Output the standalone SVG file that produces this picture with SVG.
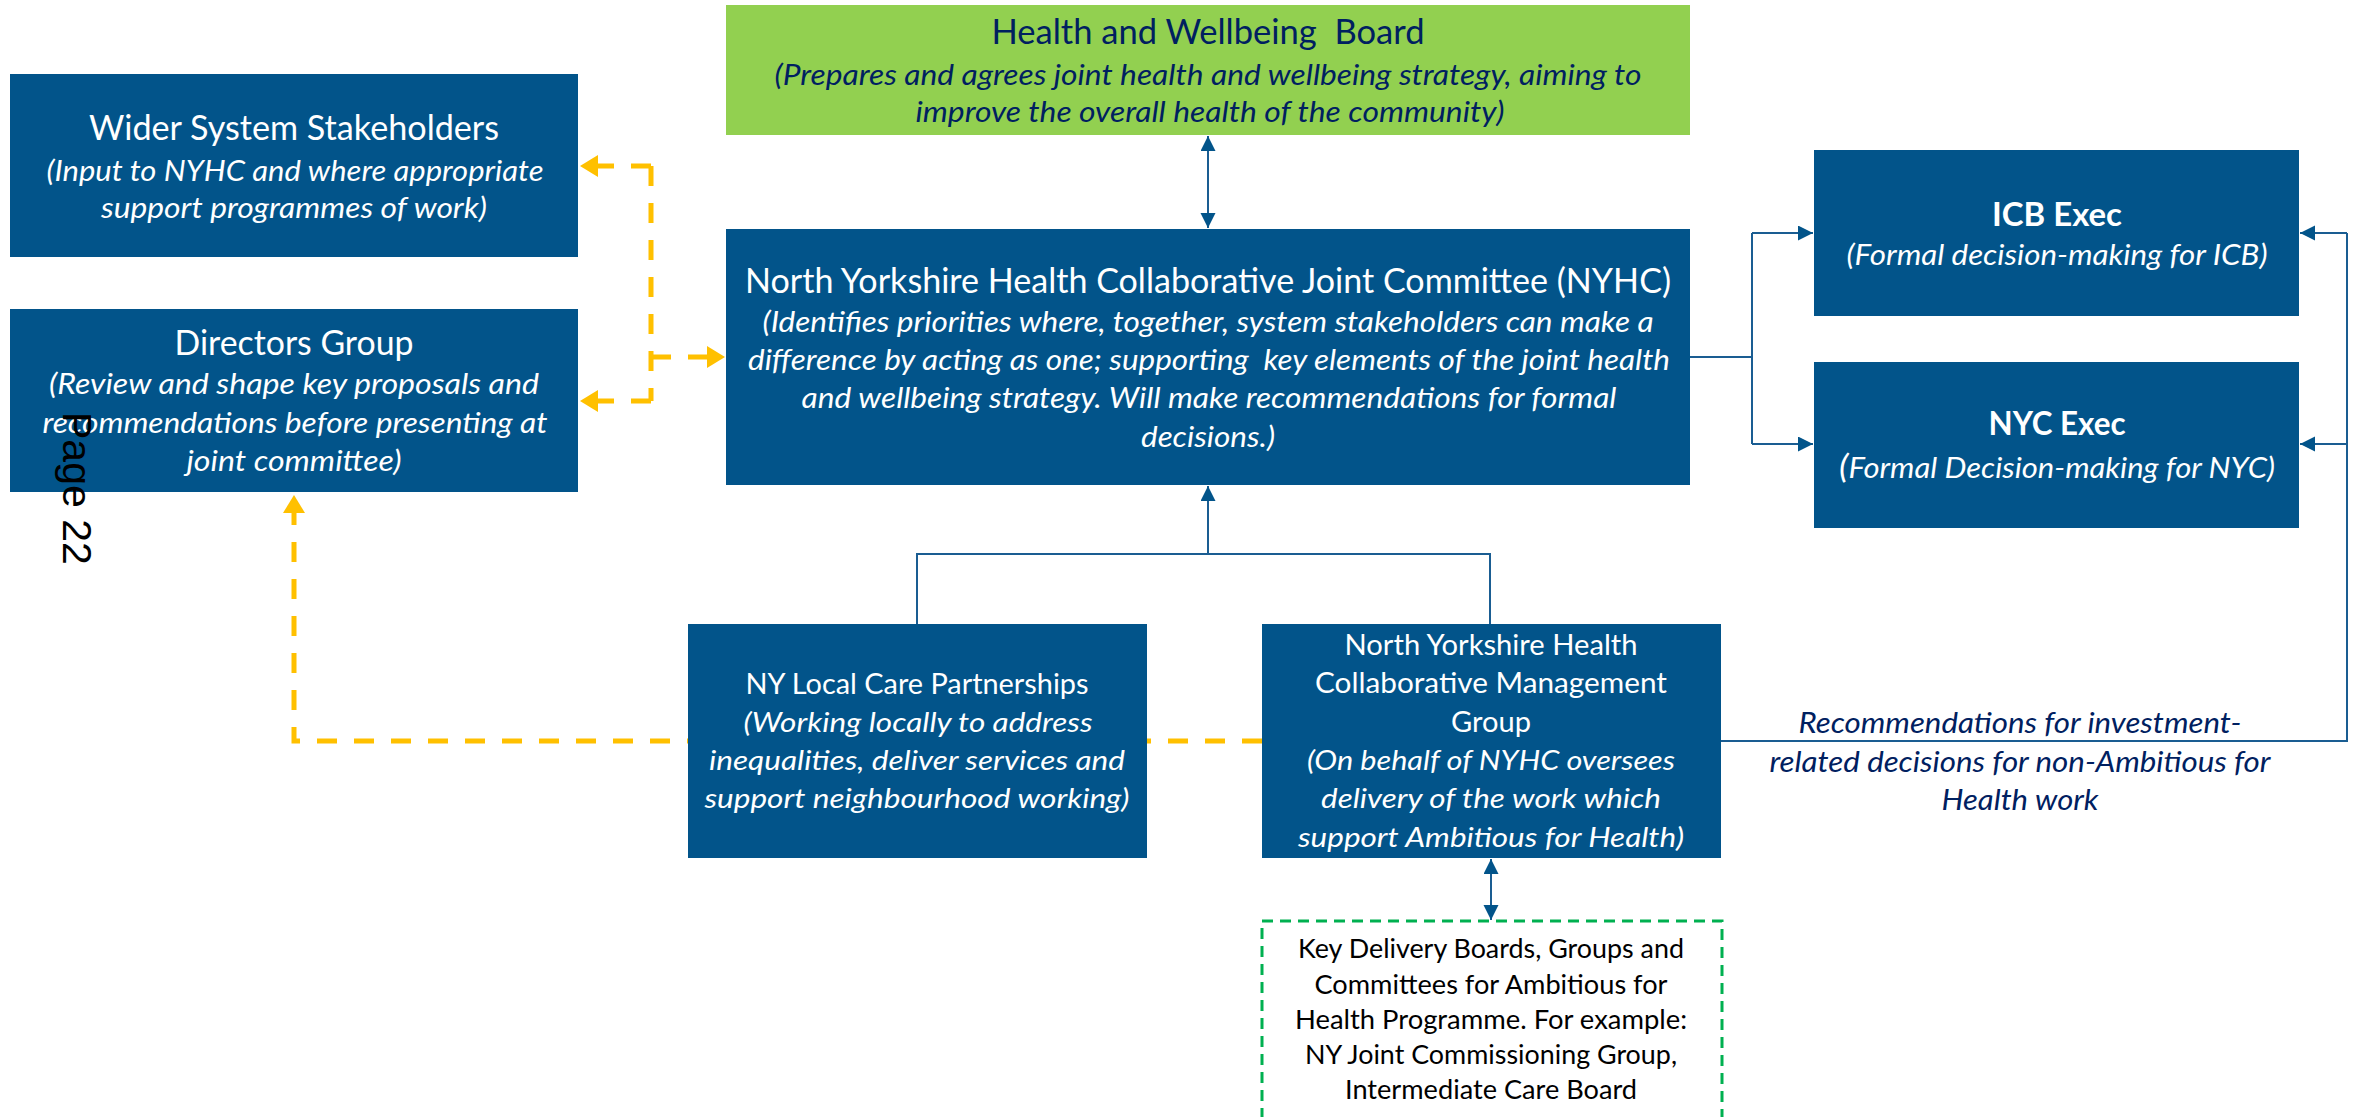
<svg xmlns="http://www.w3.org/2000/svg" width="2359" height="1117" viewBox="0 0 2359 1117">
  <style>
    .box { fill: #02548A; }
    .green { fill: #92D050; }
    text { font-family: Lato, "Liberation Sans", sans-serif; text-anchor: middle; }
    .w { fill: #FFFFFF; }
    .navy { fill: #002060; }
    .blk { fill: #000000; font-size: 26.5px; }
    .t1 { font-size: 34px; }
    .t2 { font-size: 28px; font-style: italic; }
    .t3 { font-size: 29.5px; }
    .t4 { font-size: 27px; font-style: italic; }
    .b { font-weight: bold; font-size: 32.4px; }
    .line { fill: none; stroke: #1A5D92; stroke-width: 2; }
    .dash { fill: none; stroke: #FFC000; stroke-width: 5; stroke-dasharray: 20 17; }
  </style>
  <defs>
    <marker id="ah" markerUnits="userSpaceOnUse" markerWidth="16" markerHeight="16" refX="15" refY="7.5" orient="auto-start-reverse">
      <path d="M0,0 L15,7.5 L0,15 Z" fill="#02548A"/>
    </marker>
    <marker id="ay" markerUnits="userSpaceOnUse" markerWidth="20" markerHeight="24" refX="18" refY="11" orient="auto-start-reverse">
      <path d="M0,0 L18,11 L0,22 Z" fill="#FFC000"/>
    </marker>
  </defs>

  <rect width="2359" height="1117" fill="#FFFFFF"/>

  <!-- connectors -->
  <g id="connectors">
    <!-- Health and Wellbeing Board <-> NYHC -->
    <path class="line" d="M1208,136 L1208,228" marker-start="url(#ah)" marker-end="url(#ah)"/>
    <!-- NYHC to the two executives -->
    <path class="line" d="M1690,357 L1752,357"/>
    <path class="line" d="M1752,233 L1752,444"/>
    <path class="line" d="M1752,233 L1813,233" marker-end="url(#ah)"/>
    <path class="line" d="M1752,444 L1813,444" marker-end="url(#ah)"/>
    <!-- Management group recommendations to the executives -->
    <path class="line" d="M1721,741 L2347,741 L2347,233"/>
    <path class="line" d="M2347,233 L2300,233" marker-end="url(#ah)"/>
    <path class="line" d="M2347,444 L2300,444" marker-end="url(#ah)"/>
    <!-- Local partnerships and management group up to NYHC -->
    <path class="line" d="M917,624 L917,554 L1490,554 L1490,624"/>
    <path class="line" d="M1208,554 L1208,486" marker-end="url(#ah)"/>
    <!-- Management group <-> key delivery boards -->
    <path class="line" d="M1491,859 L1491,920" marker-start="url(#ah)" marker-end="url(#ah)"/>
    <!-- dashed links on the left -->
    <path class="dash" d="M651,166 L651,401"/>
    <path class="dash" d="M651,166 L580,166" marker-end="url(#ay)"/>
    <path class="dash" d="M651,401 L580,401" marker-end="url(#ay)"/>
    <path class="dash" d="M651,357 L725,357" marker-end="url(#ay)"/>
    <path class="dash" d="M1262,741 L294,741 L294,495" marker-end="url(#ay)"/>
  </g>

  <g id="health-wellbeing-board">
    <rect class="green" x="726" y="5" width="964" height="130"/>
    <text class="navy t1" x="1208" y="44" textLength="433" lengthAdjust="spacingAndGlyphs" xml:space="preserve">Health and Wellbeing  Board</text>
    <text class="navy t2" x="1208" y="85" textLength="867" lengthAdjust="spacingAndGlyphs">(Prepares and agrees joint health and wellbeing strategy, aiming to</text>
    <text class="navy t2" x="1210" y="122" textLength="589" lengthAdjust="spacingAndGlyphs">improve the overall health of the community)</text>
  </g>

  <g id="wider-system-stakeholders">
    <rect class="box" x="10" y="74" width="568" height="183"/>
    <text class="w t1" x="294" y="140" textLength="410" lengthAdjust="spacingAndGlyphs">Wider System Stakeholders</text>
    <text class="w t2" x="295" y="181" textLength="497" lengthAdjust="spacingAndGlyphs">(Input to NYHC and where appropriate</text>
    <text class="w t2" x="294" y="218" textLength="386" lengthAdjust="spacingAndGlyphs">support programmes of work)</text>
  </g>

  <g id="directors-group">
    <rect class="box" x="10" y="309" width="568" height="183"/>
    <text class="w t1" x="294" y="355" textLength="239" lengthAdjust="spacingAndGlyphs">Directors Group</text>
    <text class="w t2" x="294" y="394" textLength="490" lengthAdjust="spacingAndGlyphs">(Review and shape key proposals and</text>
    <text class="w t2" x="295" y="433" textLength="505" lengthAdjust="spacingAndGlyphs">recommendations before presenting at</text>
    <text class="w t2" x="294" y="471" textLength="215" lengthAdjust="spacingAndGlyphs">joint committee)</text>
  </g>

  <g id="nyhc">
    <rect class="box" x="726" y="229" width="964" height="256"/>
    <text class="w t1" x="1208" y="293" textLength="926" lengthAdjust="spacingAndGlyphs">North Yorkshire Health Collaborative Joint Committee (NYHC)</text>
    <text class="w t2" x="1208" y="332" textLength="891" lengthAdjust="spacingAndGlyphs">(Identifies priorities where, together, system stakeholders can make a</text>
    <text class="w t2" x="1209" y="370" textLength="922" lengthAdjust="spacingAndGlyphs" xml:space="preserve">difference by acting as one; supporting  key elements of the joint health</text>
    <text class="w t2" x="1209" y="408" textLength="815" lengthAdjust="spacingAndGlyphs">and wellbeing strategy. Will make recommendations for formal</text>
    <text class="w t2" x="1208" y="447" textLength="134" lengthAdjust="spacingAndGlyphs">decisions.)</text>
  </g>

  <g id="icb-exec">
    <rect class="box" x="1814" y="150" width="485" height="166"/>
    <text class="w b" x="2057" y="226" textLength="130" lengthAdjust="spacingAndGlyphs">ICB Exec</text>
    <text class="w t2" x="2057" y="265" textLength="421" lengthAdjust="spacingAndGlyphs">(Formal decision-making for ICB)</text>
  </g>

  <g id="nyc-exec">
    <rect class="box" x="1814" y="362" width="485" height="166"/>
    <text class="w b" x="2057" y="435" textLength="137" lengthAdjust="spacingAndGlyphs">NYC Exec</text>
    <text class="w t2" x="2057" y="478" textLength="436" lengthAdjust="spacingAndGlyphs"><tspan font-size="33">(</tspan>Formal Decision-making for NYC)</text>
  </g>

  <g id="local-care-partnerships">
    <rect class="box" x="688" y="624" width="459" height="234"/>
    <text class="w t3" x="917" y="694" textLength="343" lengthAdjust="spacingAndGlyphs">NY Local Care Partnerships</text>
    <text class="w t4" x="918" y="732" textLength="349" lengthAdjust="spacingAndGlyphs">(Working locally to address</text>
    <text class="w t4" x="917" y="770" textLength="416" lengthAdjust="spacingAndGlyphs">inequalities, deliver services and</text>
    <text class="w t4" x="917" y="808" textLength="425" lengthAdjust="spacingAndGlyphs">support neighbourhood working)</text>
  </g>

  <g id="management-group">
    <rect class="box" x="1262" y="624" width="459" height="234"/>
    <text class="w t3" x="1491" y="655" textLength="293" lengthAdjust="spacingAndGlyphs">North Yorkshire Health</text>
    <text class="w t3" x="1491" y="693" textLength="352" lengthAdjust="spacingAndGlyphs">Collaborative Management</text>
    <text class="w t3" x="1491" y="732" textLength="80" lengthAdjust="spacingAndGlyphs">Group</text>
    <text class="w t4" x="1491" y="770" textLength="368" lengthAdjust="spacingAndGlyphs">(On behalf of NYHC oversees</text>
    <text class="w t4" x="1491" y="808" textLength="340" lengthAdjust="spacingAndGlyphs">delivery of the work which</text>
    <text class="w t4" x="1491" y="847" textLength="386" lengthAdjust="spacingAndGlyphs">support Ambitious for Health)</text>
  </g>

  <g id="recommendations-label">
    <text class="navy t2" x="2020" y="733" textLength="443" lengthAdjust="spacingAndGlyphs">Recommendations for investment-</text>
    <text class="navy t2" x="2020" y="772" textLength="501" lengthAdjust="spacingAndGlyphs">related decisions for non-Ambitious for</text>
    <text class="navy t2" x="2020" y="810" textLength="157" lengthAdjust="spacingAndGlyphs">Health work</text>
  </g>

  <g id="key-delivery-boards">
    <rect x="1262" y="921" width="460" height="215" fill="none" stroke="#00B050" stroke-width="3" stroke-dasharray="11 7"/>
    <text class="blk" x="1491" y="958" textLength="386" lengthAdjust="spacingAndGlyphs">Key Delivery Boards, Groups and</text>
    <text class="blk" x="1491" y="994" textLength="353" lengthAdjust="spacingAndGlyphs">Committees for Ambitious for</text>
    <text class="blk" x="1491" y="1029" textLength="392" lengthAdjust="spacingAndGlyphs">Health Programme. For example:</text>
    <text class="blk" x="1491" y="1064" textLength="372" lengthAdjust="spacingAndGlyphs">NY Joint Commissioning Group,</text>
    <text class="blk" x="1491" y="1099" textLength="292" lengthAdjust="spacingAndGlyphs">Intermediate Care Board</text>
  </g>

  <!-- page number, printed sideways -->
  <text transform="translate(63,412) rotate(90)" style="font-family: 'Liberation Sans', Arial, sans-serif; text-anchor: start; font-size: 41px;" fill="#000000">Page 22</text>
</svg>
